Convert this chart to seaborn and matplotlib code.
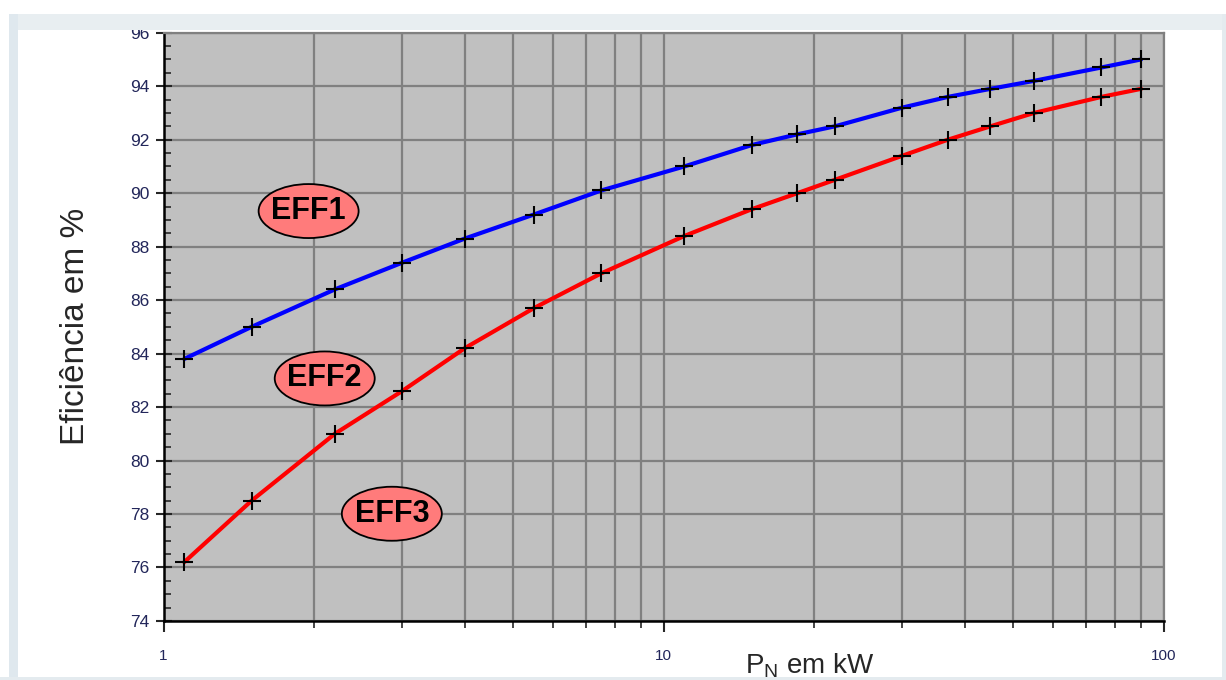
import numpy as np
import pandas as pd
import matplotlib
matplotlib.use("Agg")
import matplotlib.pyplot as plt
import matplotlib.transforms as mtransforms
from matplotlib.patches import Ellipse, Rectangle
from matplotlib.ticker import LogLocator, MultipleLocator, NullFormatter, FixedLocator, FixedFormatter
import seaborn as sns

# rated power (kW) for standard motor sizes
potencia_kw = [1.1, 1.5, 2.2, 3, 4, 5.5, 7.5, 11, 15, 18.5, 22, 30, 37, 45, 55, 75, 90]
# EFF1 lower limit (blue)
limite_eff1 = [83.8, 85.0, 86.4, 87.4, 88.3, 89.2, 90.1, 91.0, 91.8, 92.2, 92.5,
               93.2, 93.6, 93.9, 94.2, 94.7, 95.0]
# EFF2 lower limit (red)
limite_eff2 = [76.2, 78.5, 81.0, 82.6, 84.2, 85.7, 87.0, 88.4, 89.4, 90.0, 90.5,
               91.4, 92.0, 92.5, 93.0, 93.6, 93.9]

classes = ["EFF1", "EFF2", "EFF3"]
classe_x = [1.95, 2.10, 2.86]
classe_y = [89.33, 83.07, 78.01]

y_ticks = [74, 76, 78, 80, 82, 84, 86, 88, 90, 92, 94, 96]
x_ticks = [1, 10, 100]

df = pd.concat([
    pd.DataFrame({"kw": potencia_kw, "eff": limite_eff1, "curva": "EFF1"}),
    pd.DataFrame({"kw": potencia_kw, "eff": limite_eff2, "curva": "EFF2"}),
])

sns.set_style("ticks")
plt.rcParams["font.family"] = ["Liberation Sans", "DejaVu Sans"]

fig = plt.figure(figsize=(12.26, 6.80), dpi=100)
ax = fig.add_axes([0.1334, 0.0868, 0.9494 - 0.1334, 0.9519 - 0.0868])
ax.set_facecolor("#c0c0c0")

ax.set_xscale("log")
ax.set_xlim(1, 100)
ax.set_ylim(74, 96)

sns.lineplot(data=df, x="kw", y="eff", hue="curva",
             palette={"EFF1": "#0000ff", "EFF2": "#ff0000"},
             marker="+", markersize=13, markeredgecolor="black",
             markeredgewidth=1.5, linewidth=3, legend=False, ax=ax, zorder=3)

# grid
ax.xaxis.set_major_locator(FixedLocator(x_ticks))
ax.xaxis.set_major_formatter(FixedFormatter([str(v) for v in x_ticks]))
ax.xaxis.set_minor_locator(LogLocator(base=10, subs=np.arange(2, 10)))
ax.xaxis.set_minor_formatter(NullFormatter())
ax.yaxis.set_major_locator(FixedLocator(y_ticks))
ax.yaxis.set_minor_locator(MultipleLocator(0.5))
ax.grid(which="major", axis="both", color="#808080", linewidth=1.6)
ax.grid(which="minor", axis="x", color="#808080", linewidth=1.6)
ax.set_axisbelow(True)

for s in ["left", "bottom"]:
    ax.spines[s].set_color("black")
    ax.spines[s].set_linewidth(1.8)
for s in ["top", "right"]:
    ax.spines[s].set_color("#808080")
    ax.spines[s].set_linewidth(1.6)

tick_color = "#22265a"
ax.tick_params(axis="y", which="major", direction="inout", length=12, width=1.5,
               labelsize=12.5, labelcolor=tick_color, pad=4)
ax.tick_params(axis="y", which="minor", direction="in", length=5, width=1.2)
ax.tick_params(axis="x", which="major", direction="out", length=8, width=1.5,
               labelsize=11, labelcolor=tick_color, pad=12)
ax.tick_params(axis="x", which="minor", direction="out", length=5, width=1.2)

ax.set_ylabel("Eficiência em %", fontsize=24, labelpad=28)
ax.set_xlabel("P$_\\mathregular{N}$ em kW", fontsize=20)
ax.xaxis.set_label_coords(0.646, -0.052)

# class labels in ellipses
for nome, cx, cy in zip(classes, classe_x, classe_y):
    off = mtransforms.ScaledTranslation(cx, cy, ax.transData)
    ell = Ellipse((0, 0), width=1.0, height=0.54, transform=fig.dpi_scale_trans + off,
                  facecolor="#ff7b7b", edgecolor="black", linewidth=1.3, zorder=4)
    ax.add_artist(ell)
    ax.text(cx, cy, nome, ha="center", va="center", fontsize=22, fontweight="bold",
            color="black", zorder=5)

# page frame around the chart
fig.add_artist(Rectangle((0, 1 - 30 / 680), 1, 16 / 680, transform=fig.transFigure,
                         facecolor="#e8eef1", edgecolor="none", zorder=10))
fig.add_artist(Rectangle((0, 1 - 14 / 680), 1, 14 / 680, transform=fig.transFigure,
                         facecolor="white", edgecolor="none", zorder=10))
fig.add_artist(Rectangle((9 / 1226, 0), 9 / 1226, 1 - 14 / 680, transform=fig.transFigure,
                         facecolor="#dfe8ee", edgecolor="none", zorder=10))
fig.add_artist(Rectangle((0, 0), 9 / 1226, 1, transform=fig.transFigure,
                         facecolor="white", edgecolor="none", zorder=10))
fig.add_artist(Rectangle((1222 / 1226, 0), 4 / 1226, 1 - 14 / 680, transform=fig.transFigure,
                         facecolor="#e4ebef", edgecolor="none", zorder=10))
fig.add_artist(Rectangle((0, 0), 1, 3 / 680, transform=fig.transFigure,
                         facecolor="#e4ebef", edgecolor="none", zorder=10))

fig.savefig("out.png", dpi=100)
